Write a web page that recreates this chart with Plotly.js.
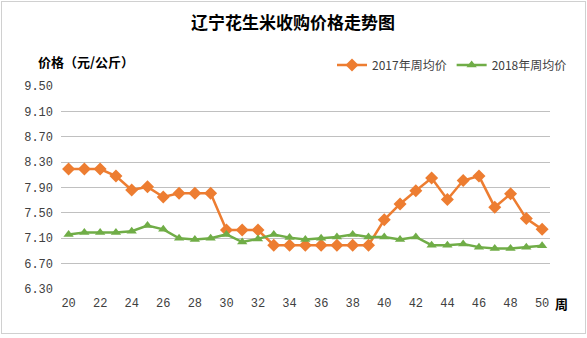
<!DOCTYPE html>
<html><head><meta charset="utf-8">
<script src="https://cdn.plot.ly/plotly-3.0.1.min.js"></script>
<style>
html,body{margin:0;padding:0;background:#fff;}
#frame{position:absolute;left:1px;top:1px;width:583px;height:331px;border:1px solid #d0d0d0;}
#chart{position:absolute;left:0;top:0;width:587px;height:338px;}
</style>
</head><body>
<div id="frame"></div>
<div id="chart"></div>
<script>
const weeks = [20,21,22,23,24,25,26,27,28,29,30,31,32,33,34,35,36,37,38,39,40,41,42,43,44,45,46,47,48,49,50];
const price2017 = [8.19,8.19,8.19,8.08,7.86,7.91,7.75,7.81,7.81,7.81,7.23,7.23,7.23,6.99,6.99,6.99,6.99,6.99,6.99,6.99,7.39,7.64,7.85,8.05,7.71,8.01,8.08,7.59,7.80,7.41,7.24];
const price2018 = [7.16,7.19,7.19,7.19,7.21,7.30,7.24,7.10,7.08,7.10,7.16,7.04,7.09,7.16,7.11,7.08,7.10,7.12,7.16,7.12,7.12,7.08,7.12,6.99,6.99,7.01,6.96,6.94,6.94,6.96,6.98];
const yTicks = [6.30,6.70,7.10,7.50,7.90,8.30,8.70,9.10,9.50];
const xTicks = [20,22,24,26,28,30,32,34,36,38,40,42,44,46,48,50];
const seriesNames = ['2017年周均价','2018年周均价'];

const cjk = '"Noto Sans CJK SC", "DejaVu Sans", sans-serif';
const tickFont = {family:'"Liberation Mono", "DejaVu Sans Mono", monospace', size:12, color:'#404040'};

const traces = [
  {x:weeks, y:price2017, name:seriesNames[0], type:'scatter', mode:'lines+markers',
   line:{color:'#ED7D31', width:2.5}, marker:{symbol:'diamond', size:10, color:'#ED7D31'}},
  {x:weeks, y:price2018, name:seriesNames[1], type:'scatter', mode:'lines+markers',
   line:{color:'#70AD47', width:2.5}, marker:{symbol:'triangle-up', size:9, color:'#70AD47'}}
];

const PL = 61, PR = 550, PT = 86, PB = 289;
const PW = PR - PL, PH = PB - PT;

const layout = {
  width:587, height:338,
  margin:{l:PL, r:587-PR, t:PT, b:338-PB},
  paper_bgcolor:'rgba(0,0,0,0)', plot_bgcolor:'rgba(0,0,0,0)',
  showlegend:true,
  legend:{orientation:'h', x:(332-PL)/PW, xanchor:'left', y:1+(PT-65)/PH, yanchor:'middle',
    font:{family:cjk, size:12, color:'#404040'}, bgcolor:'rgba(0,0,0,0)', tracegroupgap:0, itemwidth:30},
  xaxis:{range:[19.52,50.5], tickvals:xTicks, ticktext:xTicks.map(String), showgrid:false, zeroline:false,
    showline:false, ticks:'', tickfont:tickFont, ticklabelstandoff:5},
  yaxis:{range:[6.30,9.50], tickvals:yTicks, ticktext:yTicks.map(v=>v.toFixed(2)), showgrid:true,
    gridcolor:'#c0c0c0', gridwidth:1, zeroline:false, showline:false, ticks:'', tickfont:tickFont, ticklabelstandoff:7},
  annotations:[
    {text:'<b>辽宁花生米收购价格走势图</b>', xref:'paper', yref:'paper', x:(293-PL)/PW, y:1+(PT-22)/PH,
     xanchor:'center', yanchor:'middle', showarrow:false, font:{family:cjk, size:17, color:'#000'}},
    {text:'<b>价格（元/公斤）</b>', xref:'paper', yref:'paper', x:(36-PL)/PW, y:1+(PT-62)/PH,
     xanchor:'left', yanchor:'middle', showarrow:false, font:{family:cjk, size:13, color:'#000'}},
    {text:'<b>周</b>', xref:'paper', yref:'paper', x:(553-PL)/PW, y:-(303-PB)/PH,
     xanchor:'left', yanchor:'middle', showarrow:false, font:{family:cjk, size:13, color:'#000'}}
  ]
};
Plotly.newPlot('chart', traces, layout, {displayModeBar:false, staticPlot:true});
</script>
</body></html>
